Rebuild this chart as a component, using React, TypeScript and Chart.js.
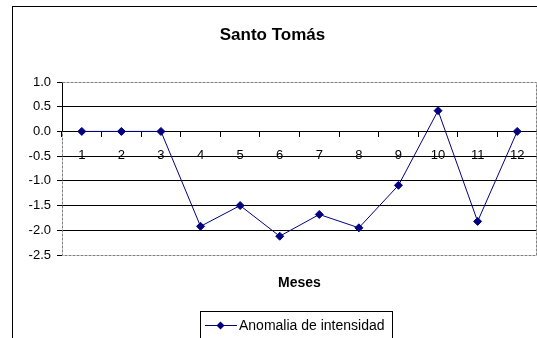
import React, { useEffect, useRef } from "react";
import { Chart, registerables } from "chart.js";

Chart.register(...registerables);

const chartTitle = "Santo Tomás";
const xAxisTitle = "Meses";
const seriesName = "Anomalia de intensidad";
const months = ["1", "2", "3", "4", "5", "6", "7", "8", "9", "10", "11", "12"];
const anomaly = [0, 0, 0, -1.92, -1.5, -2.12, -1.68, -1.95, -1.09, 0.42, -1.82, 0];
const yMin = -2.5;
const yMax = 1.0;
const yStep = 0.5;

const NAVY = "#000080";
const FONT = "'Liberation Sans', Arial, sans-serif";

const decorPlugin = {
  id: "decor",
  beforeDatasetsDraw(chart: any) {
    const { ctx, chartArea, scales } = chart;
    const l = Math.round(chartArea.left) + 0.5;
    const t = Math.round(chartArea.top) + 0.5;
    const r = Math.round(chartArea.right) - 0.5;
    const b = Math.round(chartArea.bottom) + 0.5;
    const zeroY = Math.round(scales.y.getPixelForValue(0)) + 0.5;
    ctx.save();
    ctx.lineWidth = 1;
    ctx.strokeStyle = "#808080";
    ctx.setLineDash([3, 1]);
    ctx.beginPath();
    ctx.moveTo(l, t);
    ctx.lineTo(r, t);
    ctx.lineTo(r, b);
    ctx.lineTo(l, b);
    ctx.lineTo(l, zeroY);
    ctx.stroke();
    ctx.setLineDash([]);
    ctx.strokeStyle = "#000";
    ctx.beginPath();
    ctx.moveTo(l, t);
    ctx.lineTo(l, zeroY);
    ctx.stroke();
    ctx.restore();
  },
  afterDraw(chart: any) {
    const { ctx, chartArea } = chart;
    ctx.save();
    // outer chart frame (left and top edges; right/bottom lie outside the view)
    ctx.fillStyle = "#000";
    ctx.fillRect(12, 6, chart.width - 12, 1);
    ctx.fillRect(12, 6, 1, chart.height - 6);
    // title
    ctx.textAlign = "center";
    ctx.textBaseline = "middle";
    ctx.font = `bold 17px ${FONT}`;
    ctx.fillText(chartTitle, 272.5, 35);
    // x-axis title
    ctx.font = `bold 14px ${FONT}`;
    ctx.fillText(xAxisTitle, (chartArea.left + chartArea.right) / 2, 283);
    // legend
    ctx.strokeStyle = "#000";
    ctx.lineWidth = 1;
    ctx.strokeRect(200.5, 311.5, 192, 60);
    ctx.strokeStyle = NAVY;
    ctx.beginPath();
    ctx.moveTo(205, 325.5);
    ctx.lineTo(237, 325.5);
    ctx.stroke();
    ctx.fillStyle = NAVY;
    ctx.beginPath();
    ctx.moveTo(220.5, 321.5);
    ctx.lineTo(224.5, 325.5);
    ctx.lineTo(220.5, 329.5);
    ctx.lineTo(216.5, 325.5);
    ctx.closePath();
    ctx.fill();
    ctx.fillStyle = "#000";
    ctx.textAlign = "left";
    ctx.font = `14px ${FONT}`;
    ctx.fillText(seriesName, 239, 326);
    ctx.restore();
  },
};

export default function App() {
  const ref = useRef<HTMLCanvasElement>(null);
  useEffect(() => {
    if (!ref.current) return;
    const chart = new Chart(ref.current, {
      type: "line",
      data: {
        labels: months,
        datasets: [
          {
            label: seriesName,
            data: anomaly,
            borderColor: NAVY,
            backgroundColor: NAVY,
            borderWidth: 1,
            pointStyle: "rectRot",
            pointRadius: 4,
            pointBackgroundColor: NAVY,
            pointBorderColor: NAVY,
            tension: 0,
          },
        ],
      },
      options: {
        animation: false,
        responsive: false,
        layout: { autoPadding: false, padding: { top: 82, bottom: 83, left: 0, right: 0 } },
        plugins: {
          legend: { display: false },
          title: { display: false },
          tooltip: { enabled: false },
        },
        scales: {
          x: {
            type: "category",
            offset: true,
            position: { y: 0 } as any,
            afterFit(scale: any) {
              scale.paddingLeft = 0;
              scale.paddingRight = 0;
            },
            grid: {
              display: true,
              offset: true,
              drawOnChartArea: false,
              drawTicks: true,
              tickLength: 5,
              color: "#000",
            },
            border: { display: true, color: "#000", width: 1 },
            ticks: {
              color: "#000",
              font: { family: FONT, size: 13 },
              padding: 11,
              maxRotation: 0,
              autoSkip: false,
            },
          },
          y: {
            min: yMin,
            max: yMax,
            afterFit(scale: any) {
              scale.width = 62;
              scale.paddingTop = 0;
              scale.paddingBottom = 0;
            },
            grid: {
              color: (c: any) =>
                c.tick && (c.tick.value === yMax || c.tick.value === yMin)
                  ? "rgba(0,0,0,0)"
                  : "#000",
              tickColor: "#000",
              tickLength: 5,
              lineWidth: 1,
            },
            border: { display: false },
            ticks: {
              stepSize: yStep,
              color: "#000",
              font: { family: FONT, size: 13 },
              padding: 6,
              callback: (v: any) => Number(v).toFixed(1),
            },
          },
        },
      },
      plugins: [decorPlugin],
    });
    return () => chart.destroy();
  }, []);
  return (
    <div style={{ position: "absolute", left: 0, top: 0, width: 537, height: 338, background: "#fff" }}>
      <canvas ref={ref} width={537} height={338} />
    </div>
  );
}
